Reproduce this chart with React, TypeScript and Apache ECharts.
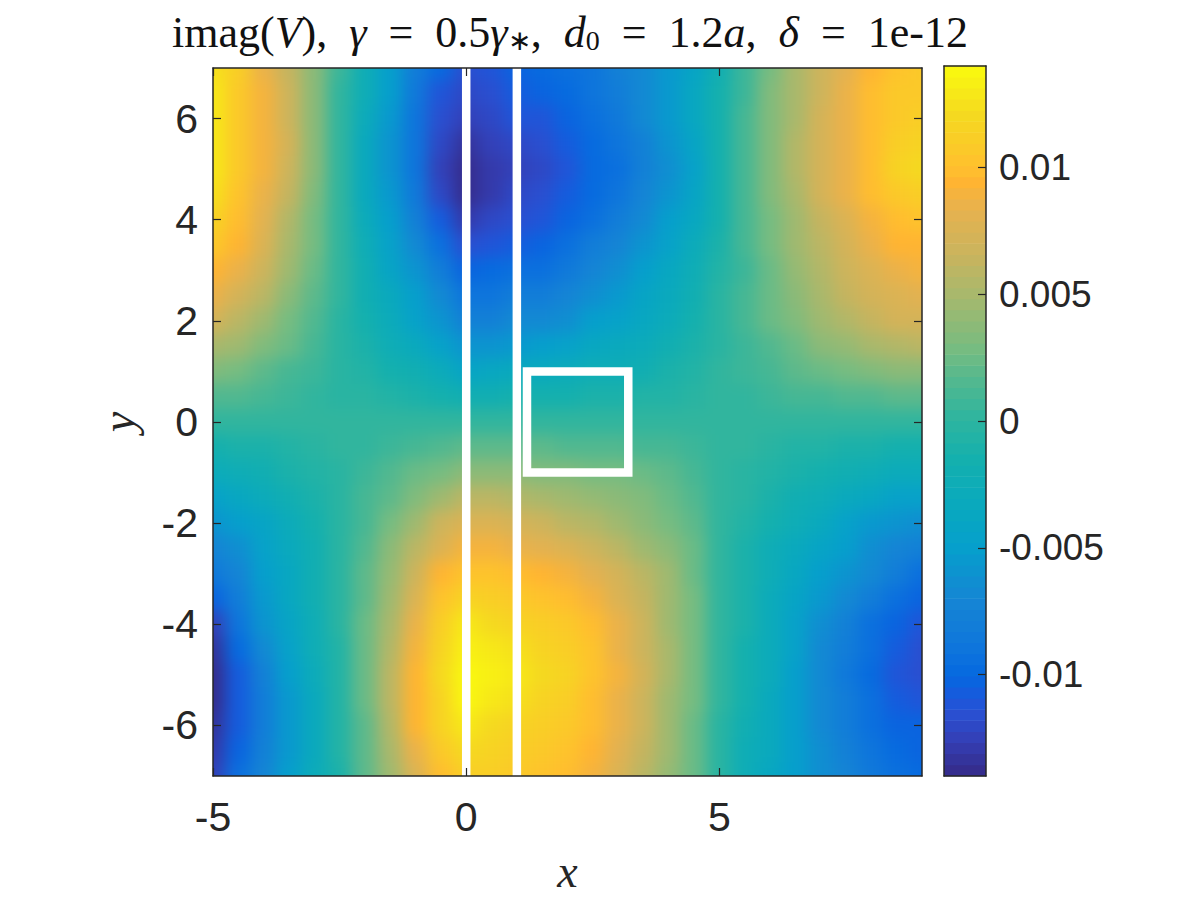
import React, { useEffect, useRef } from "react";
import * as echarts from "echarts";

const xValues = [-5,-4.5,-4,-3.5,-3,-2.5,-2,-1.5,-1,-0.5,0,0.5,1,1.5,2,2.5,3,3.5,4,4.5,5,5.5,6,6.5,7,7.5,8,8.5,9];
const yValues = [7,6.5,6,5.5,5,4.5,4,3.5,3,2.5,2,1.5,1,0.5,0,-0.5,-1,-1.5,-2,-2.5,-3,-3.5,-4,-4.5,-5,-5.5,-6,-6.5,-7];
// imag(V) in units of 1e-4, one row per y value
const imagV = [
[125,110,85,62,35,5,-25,-50,-80,-100,-115,-112,-105,-100,-95,-88,-78,-68,-55,-40,-18,8,30,50,68,82,95,102,105],
[127,108,90,68,36,2,-26,-52,-85,-110,-122,-118,-108,-104,-98,-90,-81,-69,-55,-38,-17,8,31,51,69,84,97,105,108],
[128,106,90,68,36,2,-28,-55,-88,-115,-125,-120,-113,-110,-102,-93,-84,-70,-55,-38,-16,9,32,52,70,85,98,108,112],
[130,107,91,70,36,1,-32,-58,-90,-122,-133,-126,-120,-117,-108,-97,-89,-75,-60,-43,-16,10,32,53,71,86,100,112,118],
[130,105,90,66,35,0,-35,-60,-88,-125,-140,-131,-125,-122,-112,-100,-92,-78,-64,-46,-16,10,33,53,71,86,100,114,120],
[125,102,86,62,33,2,-32,-56,-84,-120,-136,-128,-122,-118,-108,-97,-89,-74,-59,-42,-15,10,32,52,70,84,97,108,112],
[118,98,82,56,30,3,-28,-52,-78,-106,-127,-120,-115,-112,-103,-92,-82,-68,-52,-36,-14,9,29,48,65,78,90,98,102],
[108,92,76,52,28,3,-24,-46,-70,-92,-115,-110,-106,-102,-95,-82,-72,-59,-45,-30,-12,9,27,44,60,73,84,92,96],
[95,85,68,45,25,2,-20,-40,-60,-80,-102,-100,-95,-92,-85,-72,-62,-50,-38,-25,-8,8,24,40,55,67,78,86,90],
[85,73,57,38,20,0,-18,-35,-52,-70,-90,-88,-83,-80,-74,-62,-53,-43,-32,-20,-3,11,24,37,50,62,71,77,81],
[72,60,45,30,15,-2,-15,-30,-45,-58,-78,-75,-70,-68,-62,-52,-44,-36,-27,-16,-2,10,22,33,45,55,64,70,74],
[52,44,33,22,10,-2,-12,-22,-33,-44,-60,-57,-53,-50,-45,-39,-34,-28,-21,-12,-1,8,17,26,35,43,50,54,57],
[32,27,20,13,6,-2,-8,-14,-20,-28,-40,-38,-35,-32,-29,-25,-22,-18,-13,-8,0,6,12,18,24,29,33,36,38],
[16,14,10,7,3,-1,-4,-7,-10,-14,-20,-19,-17,-16,-14,-12,-10,-8,-6,-4,0,3,6,9,12,14,16,18,19],
[0,0,0,0,0,0,0,0,0,0,0,0,0,0,0,0,0,0,0,0,0,0,0,0,0,0,0,0,0],
[-15,-12,-9,-6,-3,0,3,8,13,17,21,21,19,18,16,15,14,12,10,7,2,0,-3,-5,-8,-10,-12,-14,-15],
[-28,-23,-18,-13,-8,-2,7,14,22,30,38,39,35,33,31,29,27,23,19,13,3,-1,-6,-10,-15,-19,-24,-28,-30],
[-45,-38,-30,-21,-12,-2,9,20,34,47,58,58,53,50,47,43,38,32,26,17,2,-4,-12,-18,-25,-32,-39,-44,-48],
[-60,-50,-40,-30,-15,-2,13,29,48,66,78,78,73,68,60,54,46,37,28,20,1,-7,-17,-25,-35,-44,-54,-60,-65],
[-72,-62,-47,-34,-18,-3,15,35,58,78,90,90,85,81,75,68,59,47,36,23,2,-9,-22,-32,-43,-52,-62,-71,-78],
[-85,-72,-52,-38,-20,-3,18,42,68,92,103,103,98,96,90,82,72,58,44,26,2,-11,-26,-38,-50,-60,-70,-82,-92],
[-105,-80,-56,-39,-21,-4,21,47,77,102,116,112,108,104,99,90,78,62,46,27,3,-12,-27,-42,-56,-69,-81,-93,-102],
[-125,-88,-60,-40,-22,-4,24,52,85,110,127,120,118,112,108,98,84,66,48,28,3,-13,-28,-46,-62,-78,-92,-104,-110],
[-135,-98,-70,-47,-26,-5,25,56,90,117,135,127,124,117,112,101,87,68,49,29,3,-14,-29,-48,-66,-81,-95,-107,-114],
[-140,-108,-78,-52,-30,-6,25,60,95,120,140,132,128,120,115,102,88,70,50,30,3,-15,-30,-50,-68,-84,-98,-110,-117],
[-138,-108,-80,-54,-31,-5,23,58,94,118,136,127,123,116,112,100,87,68,48,28,0,-17,-33,-51,-68,-83,-96,-106,-111],
[-135,-108,-80,-55,-32,-5,20,55,92,116,130,122,118,112,108,98,85,66,46,25,-2,-20,-35,-52,-68,-82,-94,-102,-105],
[-130,-102,-76,-53,-31,-7,19,52,85,107,120,115,112,108,103,93,80,63,44,23,-2,-22,-35,-51,-65,-78,-90,-98,-101],
[-125,-95,-72,-50,-30,-10,18,48,78,98,110,110,106,104,98,88,76,60,42,22,-2,-24,-36,-50,-62,-74,-86,-94,-98],
];
const valueUnit = 1e-4;
const xTicks = [-5, 0, 5];
const yTicks = [-6, -4, -2, 0, 2, 4, 6];
const colorbarTicks = [-0.01, -0.005, 0, 0.005, 0.01];
const colorbarRange = [-0.014, 0.014];
const colorLevelCount = 64;
const wallLineA = [[0, -7], [0, 7]];
const wallLineB = [[1, -7], [1, 7]];
const boxLine = [[2.2, -1], [3.2, -1], [3.2, 1], [1.2, 1], [1.2, -1], [2.2, -1]];

// colour ramp: [value in 1e-4, colour]
const rampStops: [number, string][] = [
  [-140, "#352a87"], [-125, "#3340b8"], [-116, "#2a4fd0"], [-109, "#1a58dc"], [-101, "#0568e0"],
  [-89, "#0f76dc"], [-71, "#1585d4"], [-50, "#069fcc"], [-36, "#08a8c0"], [-15, "#14b0ae"],
  [0, "#2cb5a0"], [15, "#50b890"], [29, "#78bc80"], [50, "#a8b86c"], [65, "#c8b45e"],
  [84, "#e8b24e"], [94, "#ffb432"], [100, "#ffc02e"], [120, "#f5d820"], [140, "#f9fb0e"],
];

function rampColor(v1e4: number): string {
  const step = 280 / colorLevelCount;
  const q = Math.min(colorLevelCount - 1, Math.max(0, Math.floor((v1e4 + 140) / step)));
  const v = -140 + (q + 0.5) * step;
  for (let i = 1; i < rampStops.length; i++) {
    if (v <= rampStops[i][0]) {
      const [a, ca] = rampStops[i - 1];
      const [b, cb] = rampStops[i];
      return echarts.color.lerp((v - a) / (b - a), [ca, cb]) as string;
    }
  }
  return rampStops[rampStops.length - 1][1];
}

const PLOT = { left: 213, top: 68, width: 709, height: 708 };
const PAD = 40;
const BLUR = 8;
const INK = "#262626";
const SANS = "'Liberation Sans', Arial, sans-serif";
const SERIF = "'Liberation Serif', 'Times New Roman', serif";

export default function App() {
  const fieldRef = useRef<HTMLDivElement>(null);
  const mainRef = useRef<HTMLDivElement>(null);

  useEffect(() => {
    const field = echarts.init(fieldRef.current!, undefined, { renderer: "svg" });
    const main = echarts.init(mainRef.current!, undefined, { renderer: "svg" });

    const cells: number[][] = [];
    yValues.forEach((y, r) => xValues.forEach((x, c) => cells.push([x, y, imagV[r][c]])));

    field.setOption({
      animation: false,
      grid: { left: PAD, top: PAD, width: PLOT.width, height: PLOT.height, outerBoundsMode: "none" },
      xAxis: { type: "value", min: -5, max: 9, show: false },
      yAxis: { type: "value", min: -7, max: 7, show: false },
      series: [{
        type: "custom",
        clip: false,
        silent: true,
        data: cells,
        renderItem: (_p: any, api: any) => {
          const x = api.value(0), y = api.value(1), v = api.value(2);
          const a = api.coord([x - 0.25, y + 0.25]);
          const b = api.coord([x + 0.25, y - 0.25]);
          const x0 = x === -5 ? a[0] - PAD : a[0];
          const x1 = x === 9 ? b[0] + PAD : b[0];
          const y0 = y === 7 ? a[1] - PAD : a[1];
          const y1 = y === -7 ? b[1] + PAD : b[1];
          return {
            type: "rect",
            shape: { x: x0 - 0.5, y: y0 - 0.5, width: x1 - x0 + 1, height: y1 - y0 + 1 },
            style: { fill: rampColor(v) },
          };
        },
      }],
    });

    const lvlStep = (colorbarRange[1] - colorbarRange[0]) / colorLevelCount;
    const levels = Array.from({ length: colorLevelCount }, (_, i) => [colorbarRange[0] + i * lvlStep, colorbarRange[0] + (i + 1) * lvlStep]);

    const axisCommon = {
      axisLine: { show: true, onZero: false, lineStyle: { color: INK, width: 1.5 } },
      axisTick: { show: true, inside: true, length: 8, lineStyle: { color: INK, width: 1.2 } },
      splitLine: { show: false },
      z: 10,
    };
    const wall = (data: number[][]) => ({
      type: "line", xAxisIndex: 0, yAxisIndex: 0, data, showSymbol: false, symbol: "none", silent: true, clip: false,
      lineStyle: { color: "#ffffff", width: 8.5, cap: "square", join: "miter" }, z: 5,
    });
    const stripe = (data: number[][]) => ({
      ...wall(data), lineStyle: { color: "#ffffff", width: 8.5, cap: "butt" },
    });

    main.setOption({
      animation: false,
      backgroundColor: "transparent",
      title: {
        left: 167, top: 5,
        text: "{r|imag(}{i|V}{r|),  }{i|γ}{r|  =  0.5}{i|γ}{s|∗}{r|,  }{i|d}{s|0}{r|  =  1.2}{i|a}{r|,  }{i|δ}{r|  =  1e-12}",
        textStyle: {
          fontWeight: "normal",
          rich: {
            r: { fontFamily: SERIF, fontSize: 44, fontWeight: "normal", color: "#111" },
            i: { fontFamily: SERIF, fontSize: 44, fontStyle: "italic", fontWeight: "normal", color: "#111" },
            s: { fontFamily: SERIF, fontSize: 28, fontWeight: "normal", color: "#111", verticalAlign: "bottom", padding: [14, 0, 0, 0] },
          },
        },
      },
      grid: [
        { left: PLOT.left, top: PLOT.top, width: PLOT.width, height: PLOT.height, outerBoundsMode: "none" },
        { left: 944, top: 66, width: 42, height: 710, outerBoundsMode: "none" },
      ],
      xAxis: [
        {
          ...axisCommon, type: "value", gridIndex: 0, min: -5, max: 9, position: "bottom",
          axisTick: { ...axisCommon.axisTick, customValues: xTicks },
          axisLabel: { customValues: xTicks, color: INK, fontFamily: SANS, fontSize: 41, margin: 20, formatter: (v: number) => String(v) },
          name: "x", nameLocation: "middle", nameGap: 72,
          nameTextStyle: { fontFamily: SERIF, fontStyle: "italic", fontSize: 46, color: INK },
        },
        {
          ...axisCommon, type: "value", gridIndex: 0, min: -5, max: 9, position: "top",
          axisTick: { ...axisCommon.axisTick, customValues: xTicks },
          axisLabel: { show: false },
        },
        {
          ...axisCommon, type: "value", gridIndex: 1, min: 0, max: 1, position: "bottom",
          axisTick: { show: false }, axisLabel: { show: false },
        },
        {
          ...axisCommon, type: "value", gridIndex: 1, min: 0, max: 1, position: "top",
          axisTick: { show: false }, axisLabel: { show: false },
        },
      ],
      yAxis: [
        {
          ...axisCommon, type: "value", gridIndex: 0, min: -7, max: 7, position: "left",
          axisTick: { ...axisCommon.axisTick, customValues: yTicks },
          axisLabel: { customValues: yTicks, color: INK, fontFamily: SANS, fontSize: 41, margin: 15, padding: [6, 0, 0, 0], formatter: (v: number) => String(v) },
          name: "y", nameLocation: "middle", nameGap: 72,
          nameTextStyle: { fontFamily: SERIF, fontStyle: "italic", fontSize: 46, color: INK },
        },
        {
          ...axisCommon, type: "value", gridIndex: 0, min: -7, max: 7, position: "right",
          axisTick: { ...axisCommon.axisTick, customValues: yTicks },
          axisLabel: { show: false },
        },
        {
          ...axisCommon, type: "value", gridIndex: 1, min: colorbarRange[0], max: colorbarRange[1], position: "right",
          axisTick: { ...axisCommon.axisTick, customValues: colorbarTicks },
          axisLabel: { customValues: colorbarTicks, color: INK, fontFamily: SANS, fontSize: 37, margin: 13, formatter: (v: number) => String(v) },
        },
        {
          ...axisCommon, type: "value", gridIndex: 1, min: colorbarRange[0], max: colorbarRange[1], position: "left",
          axisTick: { show: false }, axisLabel: { show: false },
        },
      ],
      series: [
        stripe(wallLineA),
        stripe(wallLineB),
        wall(boxLine),
        {
          type: "custom", xAxisIndex: 2, yAxisIndex: 2, silent: true, z: 1, data: levels,
          renderItem: (_p: any, api: any) => {
            const lo = api.value(0), hi = api.value(1);
            const a = api.coord([0, hi]);
            const b = api.coord([1, lo]);
            return {
              type: "rect",
              shape: { x: a[0], y: a[1] - 0.3, width: b[0] - a[0], height: b[1] - a[1] + 0.6 },
              style: { fill: rampColor(((lo + hi) / 2) / valueUnit) },
            };
          },
          encode: { x: -1, y: [0, 1] },
        },
      ],
    });

    return () => { field.dispose(); main.dispose(); };
  }, []);

  return (
    <div style={{ position: "fixed", left: 0, top: 0, width: 1200, height: 900, background: "#fff", overflow: "hidden" }}>
      <div style={{ position: "absolute", left: PLOT.left, top: PLOT.top, width: PLOT.width, height: PLOT.height, overflow: "hidden" }}>
        <div
          ref={fieldRef}
          style={{
            position: "absolute", left: -PAD, top: -PAD,
            width: PLOT.width + 2 * PAD, height: PLOT.height + 2 * PAD,
            filter: `blur(${BLUR}px)`,
          }}
        />
      </div>
      <div ref={mainRef} style={{ position: "absolute", left: 0, top: 0, width: 1200, height: 900 }} />
    </div>
  );
}
